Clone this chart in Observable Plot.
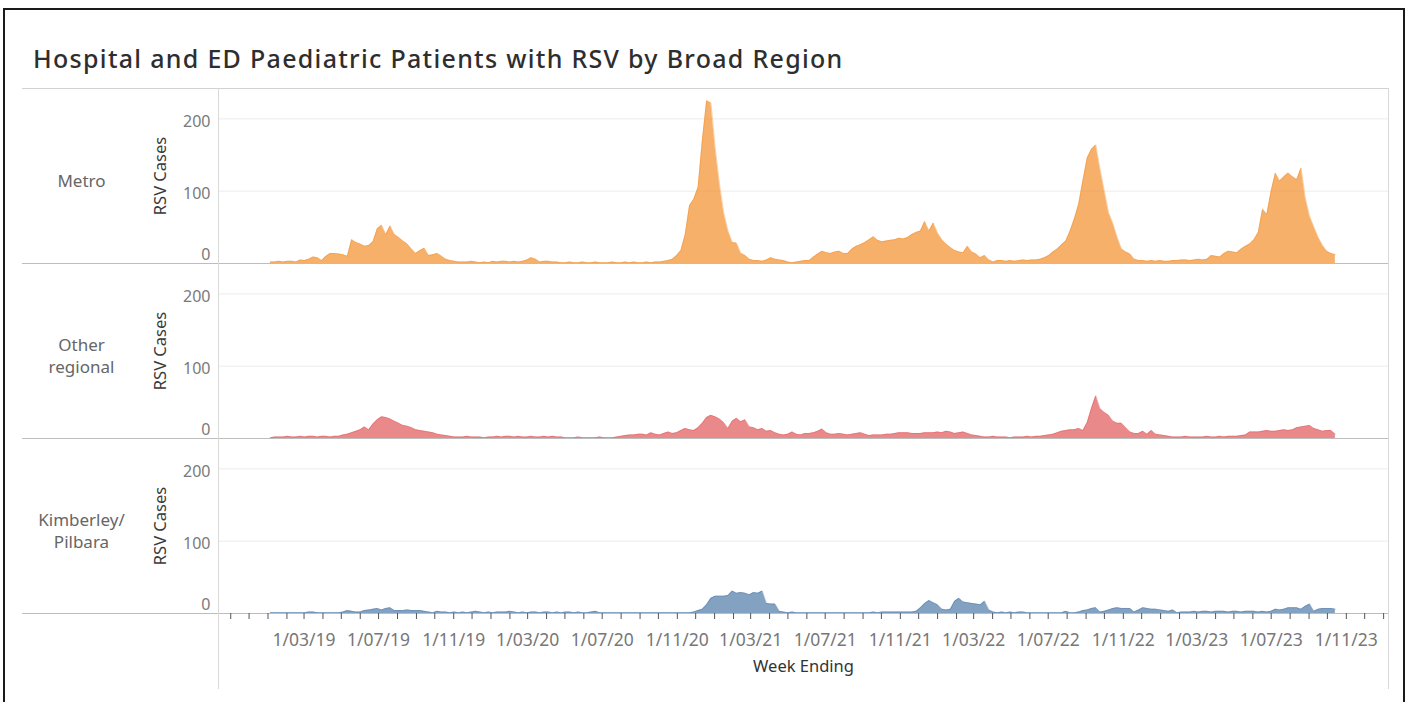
<!DOCTYPE html>
<html><head><meta charset="utf-8">
<script src="https://cdn.jsdelivr.net/npm/d3@7"></script>
<script src="https://cdn.jsdelivr.net/npm/@observablehq/plot@0.6"></script>
<style>
html,body{margin:0;padding:0;background:#fff;width:1408px;height:702px;overflow:hidden;font-family:"Noto Sans",sans-serif;}
#frame{position:absolute;left:3px;top:8px;width:1402px;height:720px;border:2px solid #1a1a1a;box-sizing:border-box;}
#title{position:absolute;left:33px;top:43px;font-size:25px;line-height:30px;color:#2e2e2e;white-space:nowrap;letter-spacing:1.3px;font-weight:500;}
#chart{position:absolute;left:0;top:86px;}
</style></head><body>
<div id="frame"></div>
<div id="title">Hospital and ED Paediatric Patients with RSV by Broad Region</div>
<div id="chart"></div>
<script>
const regions = ["Metro", "Other regional", "Kimberley/Pilbara"];
const regionLabels = ["Metro", "Other\nregional", "Kimberley/\nPilbara"];
const regionColors = ["#F28E2B", "#E15759", "#4E79A7"];
const firstWeekEnding = "2019-01-05";

const metro = [
  2,2,3,2,3,3,2,5,4,6,
  9,8,4,10,14,14,13,12,10,33,
  29,27,24,25,30,48,53,40,52,40,
  36,31,27,20,14,18,21,11,12,14,
  10,6,4,3,2,2,2,3,2,1,
  2,1,3,2,3,3,2,3,2,3,
  5,8,6,2,3,3,2,2,1,1,
  2,1,1,2,1,1,2,1,1,1,
  2,1,1,2,1,2,1,1,2,1,
  2,2,3,4,6,11,18,40,80,89,
  105,170,225,222,160,110,70,45,29,28,
  14,11,6,4,4,3,5,8,6,5,
  4,2,1,2,3,4,4,9,13,17,
  15,14,16,17,14,14,20,24,26,29,
  33,37,32,30,31,32,33,35,34,36,
  40,43,45,58,45,56,42,33,27,22,
  18,16,15,24,16,13,8,11,5,2,
  4,4,3,4,3,4,5,4,5,5,
  6,8,11,16,20,26,31,45,62,82,
  115,146,158,164,130,100,70,55,36,20,
  16,13,6,4,4,3,4,3,4,3,
  3,4,4,5,5,4,5,6,5,6,
  11,10,9,14,17,16,15,20,24,27,
  33,43,75,68,100,125,114,120,125,120,
  116,132,90,65,50,36,25,17,14,12
];

const otherRegional = [
  1,2,2,2,3,2,2,3,2,3,
  3,2,3,3,2,3,3,5,6,8,
  10,12,16,12,20,26,30,29,27,24,
  21,18,17,15,12,11,10,9,8,6,
  5,4,3,2,2,2,3,2,2,2,
  1,2,2,3,2,3,3,2,3,2,
  2,3,2,2,3,2,3,2,2,1,
  1,1,2,1,1,1,1,2,1,1,
  1,2,3,4,5,5,6,6,5,8,
  6,5,7,9,7,8,11,14,12,11,
  15,21,29,32,30,27,22,14,24,28,
  23,26,16,15,12,14,10,11,8,6,
  5,6,9,6,5,7,7,8,10,13,
  8,6,6,7,6,5,6,7,8,6,
  4,5,5,5,6,6,7,8,8,8,
  7,7,7,8,8,8,9,8,10,9,
  7,8,9,7,5,4,3,2,2,3,
  2,2,2,1,2,2,2,3,2,3,
  3,4,5,6,8,10,11,12,12,14,
  11,22,42,59,41,36,32,24,21,21,
  15,9,7,7,10,6,11,6,5,4,
  3,2,2,2,3,2,2,2,2,3,
  2,2,3,2,3,3,3,4,5,9,
  9,9,10,11,10,10,11,12,11,12,
  15,16,17,18,14,12,10,11,11,6
];

const kimberleyPilbara = [
  1,1,1,1,1,1,1,1,1,2,
  2,1,1,1,1,1,1,2,4,3,
  2,2,4,5,6,7,5,7,8,4,
  4,4,5,4,4,4,3,2,1,3,
  2,2,1,2,1,2,1,2,3,2,
  1,2,1,2,2,2,3,2,1,2,
  1,2,2,1,2,2,1,2,1,2,
  2,1,2,1,1,2,3,1,1,1,
  1,1,1,1,1,1,1,1,1,1,
  1,1,1,1,1,1,1,1,1,2,
  4,6,12,21,24,24,24,25,31,28,
  29,28,26,29,28,31,14,13,13,3,
  2,1,2,1,1,1,1,1,1,1,
  1,1,1,1,1,1,1,1,1,1,
  1,2,1,2,2,2,2,2,2,2,
  2,3,8,14,18,15,12,6,5,6,
  17,21,16,15,14,13,12,17,5,2,
  1,2,1,2,1,2,2,1,1,1,
  1,1,1,1,1,1,3,1,1,2,
  4,5,7,8,2,3,5,7,8,7,
  7,7,2,5,8,7,6,6,5,4,
  3,5,1,2,2,2,3,2,3,3,
  2,3,3,3,2,3,3,2,3,3,
  3,2,3,2,3,6,5,6,8,8,
  8,6,10,13,3,6,7,7,7,6
];

const xTickLabels = ["1/03/19","1/07/19","1/11/19","1/03/20","1/07/20","1/11/20","1/03/21","1/07/21","1/11/21","1/03/22","1/07/22","1/11/22","1/03/23","1/07/23","1/11/23"];
const yTickValues = [0, 100, 200];
const yAxisTitle = "RSV Cases";
const xAxisTitle = "Week Ending";

const series = [metro, otherRegional, kimberleyPilbara];
const start = new Date(firstWeekEnding + "T00:00:00Z");
const data = series.flatMap((vals, k) => vals.map((v, i) => ({
  region: regions[k], date: d3.utcDay.offset(start, 7 * i), value: v
})));
const parseLabel = d3.utcParse("%d/%m/%y");
const labelDates = xTickLabels.map(parseLabel);
const xDomain = [new Date("2018-10-12T00:00:00Z"), new Date("2024-01-09T00:00:00Z")];
const yMax = 242;
const monthTicks = d3.utcMonth.range(xDomain[0], xDomain[1]);
const font = '"Noto Sans", sans-serif';

const chart = Plot.plot({
  width: 1408, height: 614,
  marginTop: 1, marginBottom: 86, marginLeft: 218, marginRight: 20,
  style: {fontFamily: font, background: "transparent", overflow: "visible"},
  x: {type: "utc", domain: xDomain},
  y: {domain: [0, yMax]},
  fy: {domain: regions, padding: 0, axis: null},
  color: {domain: regions, range: regionColors},
  marks: [
    Plot.gridY(yTickValues.filter(v => v > 0), {stroke: "#ececec", strokeOpacity: 1}),
    Plot.areaY(data, {x: "date", y: "value", fy: "region", fill: "region", fillOpacity: 0.7}),
    Plot.lineY(data, {x: "date", y: "value", fy: "region", stroke: "region", strokeOpacity: 0.4, strokeWidth: 1}),
    Plot.ruleY([0], {stroke: "#bdbdbd", insetLeft: -196}),
    Plot.ruleY([{region: regions[0], v: yMax}], {y: "v", fy: "region", stroke: "#d2d2d2", insetLeft: -196}),
    Plot.ruleX(xDomain, {stroke: "#d9d9d9"}),
    Plot.ruleX(xDomain.map(d => ({region: regions[2], d})), {x: "d", fy: "region", stroke: "#d9d9d9", insetBottom: -76}),
    Plot.axisY(yTickValues.filter(v => v > 0), {tickSize: 0, tickPadding: 8, dy: 3, fontSize: 16, fill: "#7a7a7a", label: null}),
    Plot.axisY(yTickValues.filter(v => v === 0), {tickSize: 0, tickPadding: 8, dy: -9, fontSize: 16, fill: "#7a7a7a", label: null}),
    Plot.text(regions, {fy: d => d, text: d => regionLabels[regions.indexOf(d)], frameAnchor: "left", dx: -137, dy: 4, textAnchor: "middle", lineHeight: 1.3, fontSize: 17, fill: "#666"}),
    Plot.text(regions, {fy: d => d, text: () => yAxisTitle, frameAnchor: "left", textAnchor: "middle", dx: -58, rotate: -90, fontSize: 16.5, fill: "#3a3a3a"}),
    Plot.axisX(monthTicks, {tickSize: 6, tickFormat: () => "", stroke: "#555", label: null}),
    Plot.axisX(labelDates, {tickSize: 0, tickPadding: 20, tickFormat: d => xTickLabels[labelDates.findIndex(t => +t === +d)], fontSize: 17.5, fill: "#777", label: null}),
    Plot.text([xAxisTitle], {fy: () => regions[2], frameAnchor: "bottom", dy: 58, fontSize: 16.5, fill: "#333"})
  ]
});
document.getElementById("chart").appendChild(chart);
</script>
</body></html>
